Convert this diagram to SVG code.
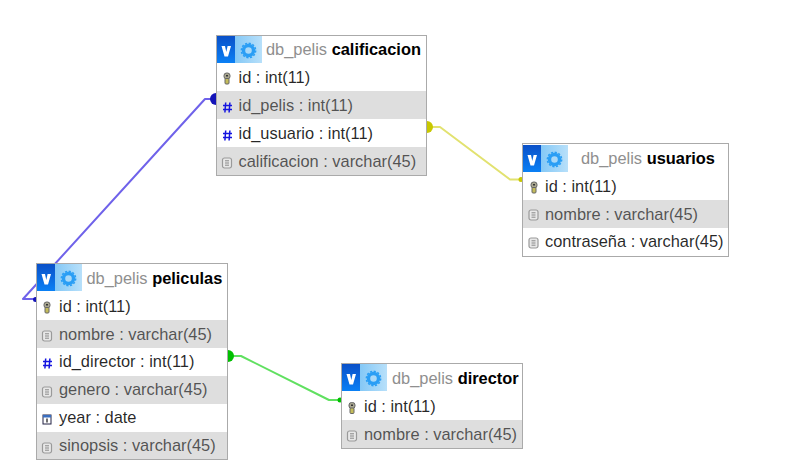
<svg xmlns="http://www.w3.org/2000/svg" width="805" height="476" viewBox="0 0 805 476">
<style>
text{font-family:"Liberation Sans",Arial,sans-serif;font-size:16.4px}
.box{fill:#fff;stroke:#aaa;stroke-width:1}
.g{fill:#dedede}
.k{fill:#000;fill-opacity:.85}
.m{fill:#3a3a3a;fill-opacity:.85}
.db{fill:#8f8f8f}
.t{fill:#000;font-weight:bold}
.ln{fill:none;stroke-width:2;stroke-linejoin:round}
</style>
<defs>
<linearGradient id="vg" x1="0" y1="0" x2="0" y2="1"><stop offset="0" stop-color="#0a50c8"/><stop offset="1" stop-color="#0a80f5"/></linearGradient>
<linearGradient id="sg" x1="0" y1="0" x2="1" y2="0"><stop offset="0" stop-color="#84c8f6"/><stop offset="1" stop-color="#b8e0fa"/></linearGradient>
<g id="head">
<rect x="0" y="0" width="18" height="27" fill="url(#vg)"/>
<rect x="18" y="0" width="27" height="27" fill="url(#sg)"/>
<path d="M4.500 10 L8 10 L9.300 16 L10.600 10 L14 10 L11 20.500 L7.500 20.500Z" fill="#fff"/>
<circle cx="31.500" cy="14.500" r="5" fill="#a8d8f8" stroke="#2a9ef5" stroke-width="3.400"/>
<circle cx="31.500" cy="14.500" r="7.200" fill="none" stroke="#2a9ef5" stroke-width="1.400" stroke-dasharray="2.200 1.570"/>
</g>
<g id="key">
<rect x="-3" y="-5.500" width="6" height="6" rx="2.500" fill="#a8a690" stroke="#666" stroke-width="1"/>
<rect x="-2" y="0" width="4" height="5.500" rx="1" fill="#c4bc5a" stroke="#666" stroke-width="1"/>
<rect x="-1" y="-3.500" width="2" height="1.500" fill="#333"/>
</g>
<g id="hash" fill="none" stroke="#1414e0" stroke-width="1.500">
<path d="M-1.800 -5 L-2.600 5 M2.400 -5 L1.600 5 M-4.500 -2 H4.500 M-4.500 2 H4.500"/>
</g>
<g id="doc">
<rect x="-4.500" y="-5" width="9" height="10" rx="2" fill="#e8e8e8" stroke="#9a9a9a" stroke-width="1.200"/>
<path d="M-2 -2.200 H2 M-2 0 H2 M-2 2.200 H2" stroke="#888" stroke-width="1"/>
</g>
<g id="cal">
<rect x="-4" y="-4.500" width="8" height="9" fill="#fff" stroke="#224" stroke-width="1"/>
<rect x="-4" y="-4.500" width="8" height="2.500" fill="#3a6fc0"/>
<path d="M0 -1 V3" stroke="#111" stroke-width="1.200"/>
</g>
</defs>
<g id="connectors">
<g>
<path class="ln" d="M213 99 H205 L23 299 H36" stroke="#6f62ea"/>
<path d="M216 93 A6 6 0 0 0 216 105Z" fill="#1414b8"/>
<circle cx="35.500" cy="299.500" r="2.500" fill="#1414b8"/>
</g>
<g>
<path class="ln" d="M430 127 H440 L510 179.500 H522" stroke="#e2e270"/>
<path d="M427 121 A6 6 0 0 1 427 133Z" fill="#c8c800"/>
<circle cx="521" cy="179.500" r="2.500" fill="#c8c800"/>
</g>
<g>
<path class="ln" d="M230 356 H241 L329 400 H341" stroke="#60e060"/>
<path d="M228 350 A6 6 0 0 1 228 362Z" fill="#00c000"/>
<circle cx="340" cy="400" r="2.500" fill="#00c000"/>
</g>
</g>
<g id="calificacion">
<rect class="box" x="216.500" y="35.500" width="210" height="140"/>
<rect class="g" x="217" y="91" width="209" height="28"/>
<rect class="g" x="217" y="147" width="209" height="28"/>
<use href="#head" x="217" y="36"/>
<text x="266" y="55"><tspan class="db">db_pelis </tspan><tspan class="t">calificacion</tspan></text>
<use href="#key" x="227" y="78.500"/><text class="k" x="238.500" y="83">id : int(11)</text>
<use href="#hash" x="227.500" y="107.500"/><text class="m" x="238.500" y="111">id_pelis : int(11)</text>
<use href="#hash" x="227.500" y="135.500"/><text class="k" x="238.500" y="139">id_usuario : int(11)</text>
<use href="#doc" x="227" y="163"/><text class="m" x="238.500" y="167">calificacion : varchar(45)</text>
</g>
<g id="usuarios">
<rect class="box" x="522.500" y="143.500" width="206" height="113"/>
<rect class="g" x="523" y="200" width="205" height="28"/>
<use href="#head" x="523" y="145"/>
<text x="581" y="164"><tspan class="db">db_pelis </tspan><tspan class="t">usuarios</tspan></text>
<use href="#key" x="534" y="187.500"/><text class="k" x="545" y="192">id : int(11)</text>
<use href="#doc" x="533.500" y="215"/><text class="m" x="545" y="220">nombre : varchar(45)</text>
<use href="#doc" x="533.500" y="243"/><text class="k" x="545" y="247">contraseña : varchar(45)</text>
</g>
<g id="peliculas">
<rect class="box" x="36.500" y="263.500" width="191" height="196"/>
<rect class="g" x="37" y="320" width="190" height="28"/>
<rect class="g" x="37" y="376" width="190" height="28"/>
<rect class="g" x="37" y="432" width="190" height="27"/>
<use href="#head" x="37" y="264"/>
<text x="86.500" y="284"><tspan class="db">db_pelis </tspan><tspan class="t">peliculas</tspan></text>
<use href="#key" x="47" y="307.500"/><text class="k" x="59" y="312">id : int(11)</text>
<use href="#doc" x="47" y="336"/><text class="m" x="59" y="340">nombre : varchar(45)</text>
<use href="#hash" x="47.500" y="363.500"/><text class="k" x="59" y="367">id_director : int(11)</text>
<use href="#doc" x="47" y="392"/><text class="m" x="59" y="395">genero : varchar(45)</text>
<use href="#cal" x="47" y="419.500"/><text class="k" x="59" y="423">year : date</text>
<use href="#doc" x="47" y="448"/><text class="m" x="59" y="451">sinopsis : varchar(45)</text>
</g>
<g id="director">
<rect class="box" x="341.500" y="363.500" width="181" height="85"/>
<rect class="g" x="342" y="420" width="180" height="28"/>
<use href="#head" x="342" y="364"/>
<text x="392" y="384"><tspan class="db">db_pelis </tspan><tspan class="t">director</tspan></text>
<use href="#key" x="352" y="408"/><text class="k" x="364" y="412">id : int(11)</text>
<use href="#doc" x="352" y="436"/><text class="m" x="364" y="440">nombre : varchar(45)</text>
</g>
</svg>
